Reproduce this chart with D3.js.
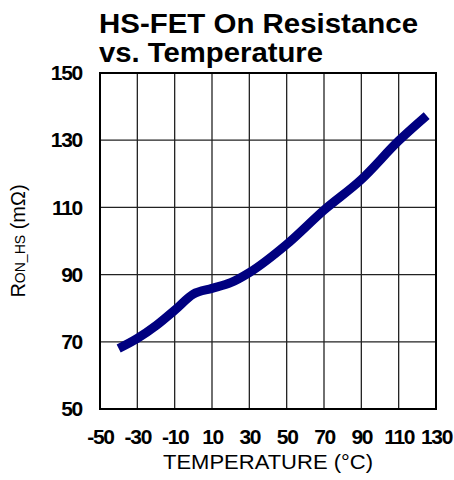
<!DOCTYPE html>
<html>
<head>
<meta charset="utf-8">
<script src="https://cdn.jsdelivr.net/npm/d3@7"></script>
<style>
  body { margin: 0; background: #fff; }
  svg { display: block; font-family: "Liberation Sans", Arial, sans-serif; }
</style>
</head>
<body>
<svg id="chart" width="454" height="480"></svg>
<script>
// values
var temps = [-40, -30, -20, -10, 0, 10, 20, 30, 50, 70, 90, 110, 125];
var ron = [68, 71, 74.8, 79.4, 84.2, 85.9, 87.6, 90.6, 99, 109.2, 118.3, 129.8, 137.3];

var xTicks = [-50, -30, -10, 10, 30, 50, 70, 90, 110, 130];
var yTicks = [50, 70, 90, 110, 130, 150];
var titleLines = ['HS-FET On Resistance', 'vs. Temperature'];

var margin = {left: 100, top: 73, right: 18, bottom: 71};
var width = 454, height = 480;

var svg = d3.select('#chart');

var x = d3.scaleLinear().domain([-50, 130]).range([margin.left, width - margin.right]);
var y = d3.scaleLinear().domain([50, 150]).range([height - margin.bottom, margin.top]);

// title
svg.selectAll('.title')
    .data(titleLines)
    .enter()
    .append('text')
    .attr('class', 'title')
    .attr('x', 99)
    .attr('y', function(d, i){ return 33 + i * 29; })
    .attr('textLength', function(d, i){ return i == 0 ? 319 : 224; })
    .attr('lengthAdjust', 'spacingAndGlyphs')
    .style('font-size', '28px')
    .style('font-weight', 'bold')
    .text(function(d){ return d; });

// grid
var grid = svg.append('g');
grid.selectAll('.vline')
    .data(xTicks.slice(1, -1))
    .enter()
    .append('line')
    .attr('x1', function(d){ return x(d); })
    .attr('x2', function(d){ return x(d); })
    .attr('y1', y(150))
    .attr('y2', y(50))
    .attr('stroke', '#222')
    .attr('stroke-width', 1.3);
grid.selectAll('.hline')
    .data(yTicks.slice(1, -1))
    .enter()
    .append('line')
    .attr('x1', x(-50))
    .attr('x2', x(130))
    .attr('y1', function(d){ return y(d); })
    .attr('y2', function(d){ return y(d); })
    .attr('stroke', '#222')
    .attr('stroke-width', 1.3);

// axes (labels only, tick marks hidden)
var xAxis = svg.append('g')
    .attr('transform', 'translate(0,' + y(50) + ')')
    .call(d3.axisBottom(x).tickValues(xTicks).tickSize(0).tickPadding(20).tickFormat(d3.format('d')));
var yAxis = svg.append('g')
    .attr('transform', 'translate(' + x(-50) + ',0)')
    .call(d3.axisLeft(y).tickValues(yTicks).tickSize(0).tickPadding(18).tickFormat(d3.format('d')));

[xAxis, yAxis].forEach(function(a){
    a.select('.domain').remove();
    a.selectAll('text')
        .attr('fill', '#000')
        .style('font-family', '"Liberation Sans", Arial, sans-serif')
        .style('font-size', '21px')
        .style('font-weight', 'bold')
        .style('letter-spacing', '-1.3px');
});
xAxis.selectAll('text').text(function(d){ return d < 0 ? '-' + Math.abs(d) : d; });

// frame
svg.append('rect')
    .attr('x', x(-50))
    .attr('y', y(150))
    .attr('width', x(130) - x(-50))
    .attr('height', y(50) - y(150))
    .attr('fill', 'none')
    .attr('stroke', '#000')
    .attr('stroke-width', 2);

// curve
var pts = temps.map(function(t, i){ return [t, ron[i]]; });
var line = d3.line()
    .x(function(d){ return x(d[0]); })
    .y(function(d){ return y(d[1]); })
    .curve(d3.curveMonotoneX);

svg.append('path')
    .datum(pts)
    .attr('d', line)
    .attr('fill', 'none')
    .attr('stroke', '#000080')
    .attr('stroke-width', 9)
    .attr('stroke-linejoin', 'round')
    .attr('stroke-linecap', 'butt');

// axis titles
svg.append('text')
    .attr('x', (x(-50) + x(130)) / 2)
    .attr('y', 469)
    .attr('text-anchor', 'middle')
    .attr('textLength', 210)
    .attr('lengthAdjust', 'spacingAndGlyphs')
    .style('font-size', '21px')
    .text('TEMPERATURE (°C)');

var yt = svg.append('text')
    .attr('transform', 'translate(25,' + ((y(50) + y(150)) / 2) + ') rotate(-90)')
    .attr('text-anchor', 'middle')
    .style('font-size', '20px');
yt.append('tspan').text('R');
yt.append('tspan').style('font-size', '14px').text('ON_HS');
yt.append('tspan').text(' (mΩ)');
</script>
</body>
</html>
